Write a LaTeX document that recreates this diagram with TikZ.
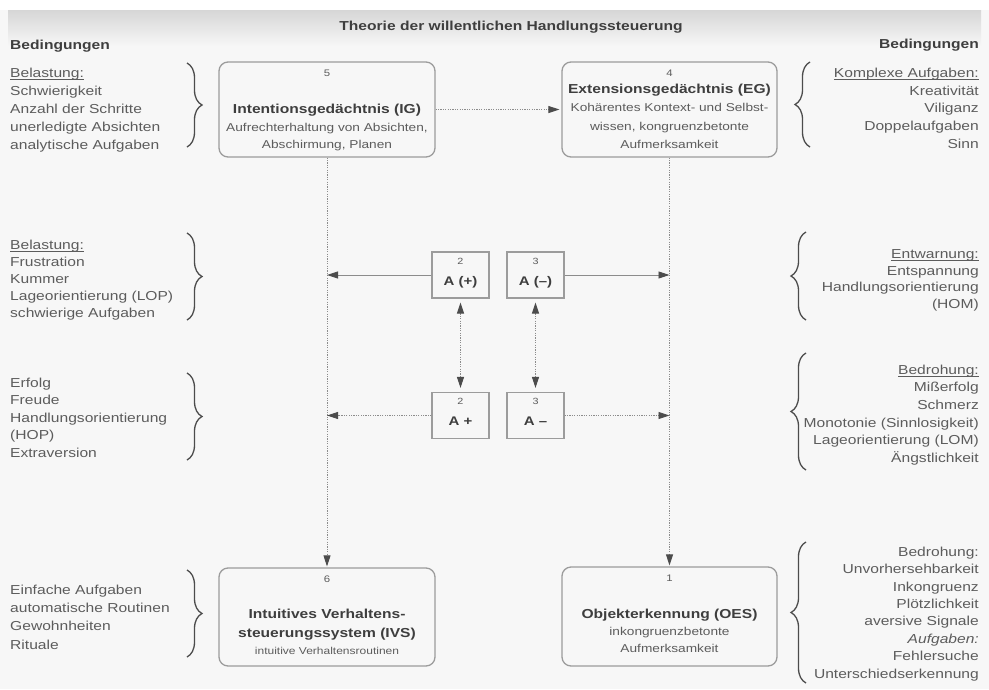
\documentclass[tikz,border=0pt]{standalone}
\usepackage{fontspec}
\setmainfont[FakeStretch=1.2]{Liberation Sans}
\usetikzlibrary{arrows.meta,decorations.pathreplacing}
\definecolor{bg}{HTML}{F7F7F7}
\definecolor{txt}{HTML}{5C5C5C}
\definecolor{ttl}{HTML}{3E3E3E}
\definecolor{frm}{HTML}{9C9C9C}
\definecolor{ln}{HTML}{8C8C8C}
\definecolor{tipc}{HTML}{4C4C4C}
\definecolor{band}{HTML}{D6D6D6}
\newcommand{\ulx}[1]{\setbox0\hbox{#1}\rlap{\rule[-1.8pt]{\wd0}{0.5pt}}\box0}
\begin{document}
\begin{tikzpicture}[x=1pt,y=-1pt,
  rbox/.style={draw=frm, line width=1.3pt, rounded corners=9pt, fill=bg, inner sep=0},
  sbox/.style={draw=frm, line width=1.2pt, fill=bg, minimum width=57pt, minimum height=46pt, inner sep=0},
  lst/.style={anchor=north west, align=left, inner sep=0, text=txt, font=\fontsize{13}{#1}\selectfont},
  lstr/.style={anchor=north east, align=right, inner sep=0, text=txt, font=\fontsize{13}{#1}\selectfont},
  hdr/.style={inner sep=0, text=ttl, font=\fontsize{13}{16}\selectfont\bfseries},
  ttlf/.style={anchor=base, inner sep=0, text=ttl, font=\fontsize{13}{16}\selectfont\bfseries},
  subf/.style={anchor=base, inner sep=0, text=txt, font=\fontsize{11.4}{14}\selectfont},
  numf/.style={anchor=base, inner sep=0, text=txt, font=\fontsize{9.5}{11}\selectfont},
  atxt/.style={anchor=base, inner sep=0, text=ttl, font=\fontsize{12.5}{14}\selectfont\bfseries},
  tipped/.style={-{Triangle[length=11pt,width=7pt,color=tipc]}, draw=ln, line width=0.9pt},
  twotips/.style={{Triangle[length=11pt,width=7pt,color=tipc]}-{Triangle[length=11pt,width=7pt,color=tipc]}, draw=ln, line width=0.9pt, shorten >=4pt, shorten <=4pt},
  dots/.style={dash pattern=on 1.2pt off 1.2pt},
  brc/.style={draw=tipc, line width=1.3pt, decorate, decoration={brace, amplitude=#1}},
  brc/.default=15pt
]
% background
\fill[white] (0,0) rectangle (989,689);
\fill[bg] (0,10) rectangle (989,689);
\shade[top color=band, bottom color=bg] (8,10) rectangle (981,46);

% headings
\node[hdr, anchor=base] (title) at (511,30) {Theorie der willentlichen Handlungssteuerung};
\node[hdr, anchor=base west] (bedl) at (10,49) {Bedingungen};
\node[hdr, anchor=base east] (bedr) at (979,48) {Bedingungen};

% main boxes
\node[rbox, minimum width=216pt, minimum height=95pt] (IG) at (327,109.5) {};
\node[rbox, minimum width=215pt, minimum height=95pt] (EG) at (669.5,109.5) {};
\node[rbox, minimum width=216pt, minimum height=98pt] (IVS) at (327,617) {};
\node[rbox, minimum width=215pt, minimum height=99pt] (OES) at (669.5,616.5) {};

% box texts
\node[numf] (n5) at (327,76) {5};
\node[ttlf] (igt) at (327,113) {Intentionsgedächtnis (IG)};
\node[subf] (ig1) at (327,131) {Aufrechterhaltung von Absichten,};
\node[subf] (ig2) at (327,148) {Abschirmung, Planen};

\node[numf] (n4) at (669.5,76) {4};
\node[ttlf] (egt) at (669.5,93) {Extensionsgedächtnis (EG)};
\node[subf] (eg1) at (669.5,111) {Kohärentes Kontext- und Selbst-};
\node[subf] (eg2) at (669.5,130) {wissen, kongruenzbetonte};
\node[subf] (eg3) at (669.5,148) {Aufmerksamkeit};

\node[numf] (n6) at (327,582) {6};
\node[ttlf] (ivt1) at (327,618) {Intuitives Verhaltens-};
\node[ttlf] (ivt2) at (327,637) {steuerungssystem (IVS)};
\node[subf, font=\fontsize{10}{12}\selectfont] (iv1) at (327,654) {intuitive Verhaltensroutinen};

\node[numf] (n1) at (669.5,581) {1};
\node[ttlf] (oet) at (669.5,618) {Objekterkennung (OES)};
\node[subf] (oe1) at (669.5,635) {inkongruenzbetonte};
\node[subf] (oe2) at (669.5,652) {Aufmerksamkeit};

% affect boxes
\node[sbox] (Ap) at (460.5,275) {};
\node[sbox] (Am) at (535.5,275) {};
\node[sbox] (Bp) at (460.5,415.5) {};
\node[sbox] (Bm) at (535.5,415.5) {};
\node[numf, font=\fontsize{9}{10}\selectfont] (a2) at (460.5,264) {2};
\node[atxt] (apt) at (460.5,285) {A (+)};
\node[numf, font=\fontsize{9}{10}\selectfont] (a3) at (535.5,264) {3};
\node[atxt] (amt) at (535.5,285) {A (–)};
\node[numf, font=\fontsize{9}{10}\selectfont] (b2) at (460.5,404.5) {2};
\node[atxt] (bpt) at (460.5,425.5) {A +};
\node[numf, font=\fontsize{9}{10}\selectfont] (b3) at (535.5,404.5) {3};
\node[atxt] (bmt) at (535.5,425.5) {A –};

% connectors
\draw[tipped, dots, shorten >=2pt] (IG) -- (EG);
\draw[tipped, dots, shorten >=1pt] (IG) -- (IVS);
\draw[tipped, dots, shorten >=1pt] (EG) -- (OES);
\draw[tipped] (Ap) -- (Ap -| IG);
\draw[tipped] (Am) -- (Am -| EG);
\draw[tipped, dots] (Bp) -- (Bp -| IG);
\draw[tipped, dots] (Bm) -- (Bm -| EG);
\draw[twotips, dots] (Ap) -- (Bp);
\draw[twotips, dots] (Am) -- (Bm);

% left lists
\node[lst=18] (l1) at (10,67.7) {\ulx{Belastung:}\\Schwierigkeit\\Anzahl der Schritte\\unerledigte Absichten\\analytische Aufgaben};
\node[lst=17] (l2) at (10,239.7) {\ulx{Belastung:}\\Frustration\\Kummer\\Lageorientierung (LOP)\\schwierige Aufgaben};
\node[lst=17.5] (l3) at (10,377.7) {Erfolg\\Freude\\Handlungsorientierung\\(HOP)\\Extraversion};
\node[lst=18.3] (l4) at (10,584.7) {Einfache Aufgaben\\automatische Routinen\\Gewohnheiten\\Rituale};

% right lists
\node[lstr=17.8] (r1) at (979,67.7) {\ulx{Komplexe Aufgaben:}\\Kreativität\\Viliganz\\Doppelaufgaben\\Sinn};
\node[lstr=16.5] (r2) at (979,249.7) {\ulx{Entwarnung:}\\Entspannung\\Handlungsorientierung\\(HOM)};
\node[lstr=17.6] (r3) at (979,364.7) {\ulx{Bedrohung:}\\Mißerfolg\\Schmerz\\Monotonie (Sinnlosigkeit)\\Lageorientierung (LOM)\\Ängstlichkeit};
\node[lstr=17.4] (r4) at (979,546.7) {Bedrohung:\\Unvorhersehbarkeit\\Inkongruenz\\Plötzlichkeit\\aversive Signale\\\textit{Aufgaben:}\\Fehlersuche\\Unterschiedserkennung};

% braces
\draw[brc] (187,63) -- (187,147);
\draw[brc] (187,233) -- (187,320);
\draw[brc] (187,373) -- (187,460);
\draw[brc] (187,570) -- (187,657);
\draw[brc] (810,147) -- (810,62);
\draw[brc] (806,320) -- (806,232);
\draw[brc] (806,470) -- (806,353);
\draw[brc] (806,683) -- (806,542);
\end{tikzpicture}
\end{document}
